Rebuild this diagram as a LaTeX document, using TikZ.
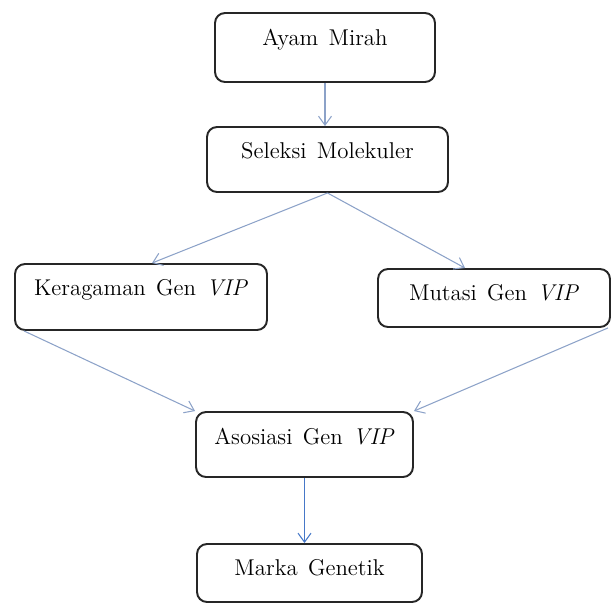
\documentclass[tikz,border=0pt]{standalone}
\usepackage{tikz}
\usetikzlibrary{arrows.meta}
\definecolor{fleche}{RGB}{140,162,200}
\definecolor{flechebleu}{RGB}{70,120,200}

\newcommand{\policeboite}{\fontsize{13}{15}\selectfont\spaceskip=0.45em plus 0.1em\relax}

\tikzset{
    boite/.style={draw=black!85, line width=1.1pt, rounded corners=0.2cm, inner sep=0pt},
    etiquette/.style={anchor=north, inner sep=0pt, yshift=-0.33cm, font=\policeboite},
    lien/.style={draw=fleche, line width=0.6pt, -{Straight Barb[length=1.8mm, width=2.6mm]}},
}

\begin{document}
\begin{tikzpicture}[x=0.02cm, y=-0.02cm]
    % Cadre de l'image
    \useasboundingbox (0,0) rectangle (611,603);

    % Boites du haut
    \node[boite, minimum width=4.4cm, minimum height=1.38cm,
          label={[etiquette]north:Ayam Mirah}] (ayam) at (325,47.5) {};
    \node[boite, minimum width=4.82cm, minimum height=1.3cm,
          label={[etiquette]north:Seleksi Molekuler}] (seleksi) at (327.5,159.5) {};

    % Boites du milieu
    \node[boite, minimum width=5.04cm, minimum height=1.32cm,
          label={[etiquette]north:Keragaman Gen \textit{VIP}}] (keragaman) at (141,297) {};
    \node[boite, minimum width=4.64cm, minimum height=1.16cm,
          label={[etiquette]north:Mutasi Gen \textit{VIP}}] (mutasi) at (494,298) {};

    % Boites du bas
    \node[boite, minimum width=4.34cm, minimum height=1.3cm,
          label={[etiquette]north:Asosiasi Gen \textit{VIP}}] (asosiasi) at (304.5,444.5) {};
    \node[boite, minimum width=4.5cm, minimum height=1.16cm,
          label={[etiquette]north:Marka Genetik}] (marka) at (309.5,573) {};

    % Fleches
    \draw[lien] (ayam.south) -- (ayam.south |- seleksi.north);
    \draw[lien] (seleksi.south) -- ([xshift=0.22cm]keragaman.north);
    \draw[lien] (seleksi.south) -- ([xshift=-0.58cm]mutasi.north);
    \draw[lien] ([xshift=0.2cm]keragaman.south west) -- (asosiasi.north west);
    \draw[lien] ([xshift=-0.06cm]mutasi.south east) -- (asosiasi.north east);
    \draw[lien, draw=flechebleu] (asosiasi.south) -- (asosiasi.south |- marka.north);
\end{tikzpicture}
\end{document}
